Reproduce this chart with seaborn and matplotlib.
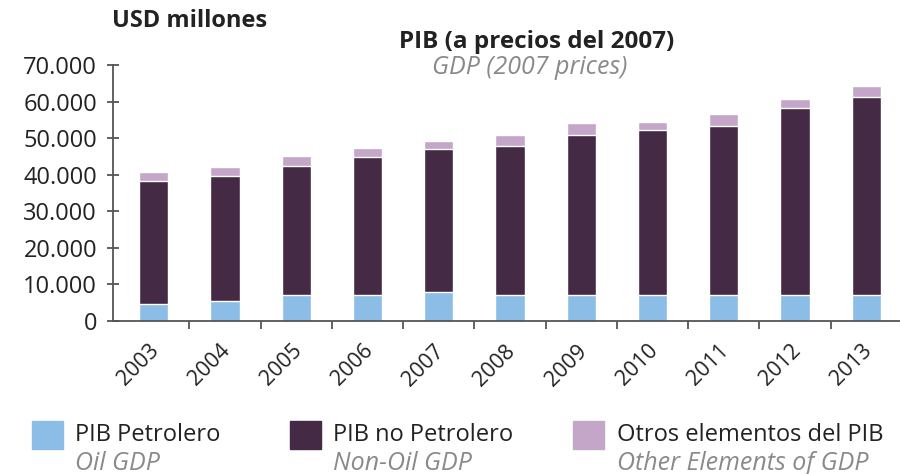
import numpy as np
import pandas as pd
import seaborn as sns
import matplotlib.pyplot as plt
from matplotlib.patches import Rectangle
from matplotlib.ticker import FuncFormatter
from matplotlib.transforms import ScaledTranslation

# datos (USD millones, precios 2007)
anios = ['2003', '2004', '2005', '2006', '2007', '2008', '2009', '2010', '2011', '2012', '2013']
pib_petrolero = [4600, 5500, 7200, 7200, 7900, 7100, 7100, 7100, 7100, 7100, 7100]
pib_no_petrolero = [33700, 34200, 35300, 37600, 39100, 40700, 43700, 45100, 46300, 51100, 54200]
otros_elementos = [2400, 2500, 2700, 2600, 2300, 3200, 3400, 2100, 3200, 2500, 3100]

leyenda_es = ['PIB Petrolero', 'PIB no Petrolero', 'Otros elementos del PIB']
leyenda_en = ['Oil GDP', 'Non-Oil GDP', 'Other Elements of GDP']

c_oil = '#8bbde6'
c_nonoil = '#442a45'
c_otros = '#c4a6c9'

sns.set_style('white')
plt.rcParams['font.family'] = ['Open Sans', 'DejaVu Sans']

df = pd.DataFrame({'anio': anios, 'oil': pib_petrolero,
                   'nonoil': pib_no_petrolero, 'otros': otros_elementos})
df['nivel2'] = df['oil'] + df['nonoil']
df['total'] = df['nivel2'] + df['otros']

fig = plt.figure(figsize=(9, 4.74), dpi=100)
ax = fig.add_axes([0.1256, 0.3228, 0.874, 0.540])

# barras apiladas: se dibuja del total hacia abajo
sns.barplot(data=df, x='anio', y='total', color=c_otros, width=0.41, saturation=1, ax=ax)
sns.barplot(data=df, x='anio', y='nivel2', color=c_nonoil, width=0.41, saturation=1, ax=ax)
sns.barplot(data=df, x='anio', y='oil', color=c_oil, width=0.41, saturation=1, ax=ax)

ax.set_ylim(0, 70000)
ax.set_xlim(-0.57, 10.47)
ax.set_xlabel('')
ax.set_ylabel('')
ax.set_yticks(np.arange(0, 70001, 10000))
ax.yaxis.set_major_formatter(FuncFormatter(lambda v, p: f'{int(v):,}'.replace(',', '.')))

for s in ['top', 'right']:
    ax.spines[s].set_visible(False)
for s in ['left', 'bottom']:
    ax.spines[s].set_color('#555555')
    ax.spines[s].set_linewidth(1.3)

ax.tick_params(axis='y', direction='inout', length=9, width=1.3, color='#555555',
               labelsize=17, labelcolor='#222222', pad=7, left=True)
# ticks del eje x entre barras
ax.set_xticks(np.arange(len(anios)))
ax.set_xticks(np.arange(len(anios) - 1) + 0.5, minor=True)
ax.tick_params(axis='x', which='major', length=0, labelsize=15.5, labelcolor='#222222', pad=14)
ax.tick_params(axis='x', which='minor', direction='out', length=6, width=1.3,
               color='#555555', bottom=True)
desplaza = ScaledTranslation(-5 / 100, 0, fig.dpi_scale_trans)
for lab in ax.get_xticklabels():
    lab.set_rotation(45)
    lab.set_ha('right')
    lab.set_rotation_mode('anchor')
    lab.set_transform(lab.get_transform() + desplaza)

fig.text(0.1245, 0.955, 'USD millones', fontsize=17, fontweight='bold', color='#222222', va='center')
fig.text(0.596, 0.912, 'PIB (a precios del 2007)', fontsize=17.5, fontweight='bold',
         color='#222222', ha='center', va='center')
fig.text(0.588, 0.858, 'GDP (2007 prices)', fontsize=18, style='italic',
         color='#8a8a8a', ha='center', va='center')

# leyenda manual con dos lineas
cajas_x = [32, 290, 573]
texto_x = [75, 333, 617]
colores = [c_oil, c_nonoil, c_otros]
for bx, tx, col, es, en in zip(cajas_x, texto_x, colores, leyenda_es, leyenda_en):
    fig.add_artist(Rectangle((bx / 900, 1 - 449 / 474), 31 / 900, 28 / 474,
                             transform=fig.transFigure, color=col))
    fig.text(tx / 900, 1 - 435 / 474, es, fontsize=17, color='#222222', va='center')
    fig.text(tx / 900, 1 - 463 / 474, en, fontsize=18, style='italic', color='#8a8a8a', va='center')

fig.savefig('out.png', dpi=100)
